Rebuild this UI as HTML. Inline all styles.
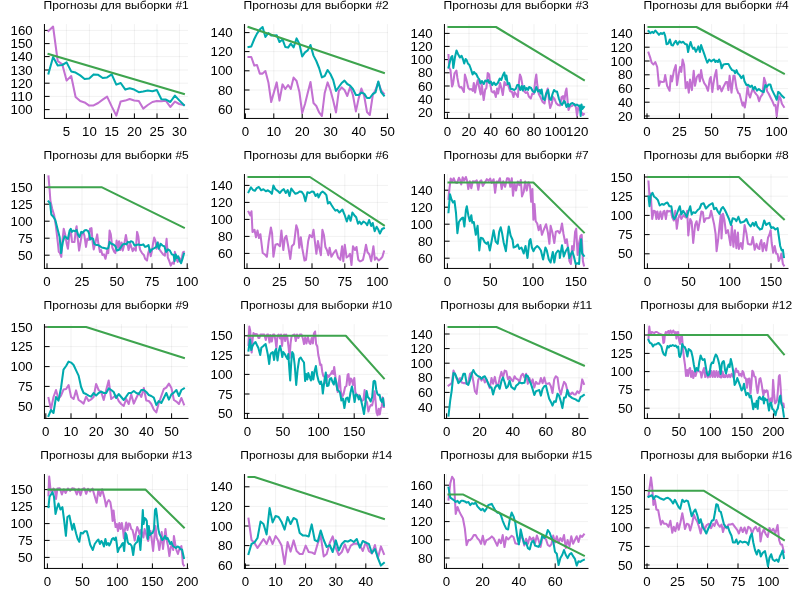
<!DOCTYPE html>
<html lang="ru">
<head>
<meta charset="utf-8">
<title>Прогнозы для выборок</title>
<style>
html,body{margin:0;padding:0;background:#ffffff;}
body{width:800px;height:600px;overflow:hidden;font-family:"Liberation Sans",sans-serif;}
svg{display:block;will-change:transform;}
</style>
</head>
<body>
<svg width="800" height="600" viewBox="0 0 800 600">
<rect x="0" y="0" width="800" height="600" fill="#ffffff"/>
<defs>
<clipPath id="c1"><rect x="44.5" y="24.1" width="143.6" height="94.3"/></clipPath>
<clipPath id="c2"><rect x="244.4" y="24.1" width="143.6" height="94.3"/></clipPath>
<clipPath id="c3"><rect x="444.4" y="24.1" width="143.6" height="94.3"/></clipPath>
<clipPath id="c4"><rect x="644.5" y="24.1" width="143.6" height="94.3"/></clipPath>
<clipPath id="c5"><rect x="44.5" y="174.1" width="143.6" height="94.3"/></clipPath>
<clipPath id="c6"><rect x="244.4" y="174.1" width="143.6" height="94.3"/></clipPath>
<clipPath id="c7"><rect x="444.4" y="174.1" width="143.6" height="94.3"/></clipPath>
<clipPath id="c8"><rect x="644.5" y="174.1" width="143.6" height="94.3"/></clipPath>
<clipPath id="c9"><rect x="44.5" y="324.1" width="143.6" height="94.3"/></clipPath>
<clipPath id="c10"><rect x="244.4" y="324.1" width="143.6" height="94.3"/></clipPath>
<clipPath id="c11"><rect x="444.4" y="324.1" width="143.6" height="94.3"/></clipPath>
<clipPath id="c12"><rect x="644.5" y="324.1" width="143.6" height="94.3"/></clipPath>
<clipPath id="c13"><rect x="44.5" y="474.1" width="143.6" height="94.3"/></clipPath>
<clipPath id="c14"><rect x="244.4" y="474.1" width="143.6" height="94.3"/></clipPath>
<clipPath id="c15"><rect x="444.4" y="474.1" width="143.6" height="94.3"/></clipPath>
<clipPath id="c16"><rect x="644.5" y="474.1" width="143.6" height="94.3"/></clipPath>
</defs>
<g>
<path d="M66.4 24.1V118.5M89.4 24.1V118.5M111.6 24.1V118.5M134.4 24.1V118.5M157.0 24.1V118.5M179.4 24.1V118.5M44.5 109.6H188.0M44.5 96.4H188.0M44.5 83.2H188.0M44.5 70.0H188.0M44.5 56.6H188.0M44.5 43.6H188.0M44.5 30.4H188.0" stroke="#000" stroke-opacity="0.1" stroke-width="0.55" fill="none"/>
<path d="M44.45 24.00V118.95M43.95 118.45H188.50M66.4 118.5V113.4M89.4 118.5V113.4M111.6 118.5V113.4M134.4 118.5V113.4M157.0 118.5V113.4M179.4 118.5V113.4M44.5 109.6H49.6M44.5 96.4H49.6M44.5 83.2H49.6M44.5 70.0H49.6M44.5 56.6H49.6M44.5 43.6H49.6M44.5 30.4H49.6" stroke="#000" stroke-width="1" fill="none"/>
<g clip-path="url(#c1)" fill="none" stroke-width="2.05" stroke-linejoin="round" stroke-linecap="square">
<polyline stroke="#c371d2" points="48.5,31.0 53.1,26.6 57.7,61.0 62.3,64.4 66.6,80.6 71.2,76.0 75.6,97.0 80.2,101.0 84.6,102.4 89.2,105.6 93.6,105.4 98.2,103.0 102.7,99.6 107.1,96.6 111.7,106.4 116.3,115.6 120.7,101.4 125.3,100.6 129.7,99.0 134.2,100.4 138.8,101.0 143.2,108.6 147.8,105.0 152.4,102.0 156.8,101.0 161.4,101.2 166.0,100.8 170.3,107.0 174.9,101.6 179.3,104.0 183.9,105.0"/>
<polyline stroke="#00aaae" points="48.5,73.6 53.1,57.0 57.7,65.4 62.3,65.0 66.6,62.4 71.2,71.4 75.6,72.6 80.2,75.4 84.6,79.0 89.2,78.6 93.6,74.4 98.2,74.8 102.7,78.0 107.1,77.4 111.7,74.4 116.3,84.6 120.7,83.0 125.3,89.6 129.7,88.2 134.2,89.6 138.8,92.2 143.2,91.6 147.8,90.6 152.4,91.2 156.8,90.0 161.4,99.2 166.0,99.6 170.3,102.0 174.9,95.6 179.3,100.4 183.9,105.0"/>
<polyline stroke="#3ea44e" points="48.5,54.0 183.9,94.0"/>
</g>
<g font-family="'Liberation Sans', sans-serif" font-size="12.7" fill="#000">
<text x="62.71" y="135.7" textLength="7.38" lengthAdjust="spacingAndGlyphs">5</text>
<text x="82.02" y="135.7" textLength="14.76" lengthAdjust="spacingAndGlyphs">10</text>
<text x="104.22" y="135.7" textLength="14.76" lengthAdjust="spacingAndGlyphs">15</text>
<text x="127.02" y="135.7" textLength="14.76" lengthAdjust="spacingAndGlyphs">20</text>
<text x="149.62" y="135.7" textLength="14.76" lengthAdjust="spacingAndGlyphs">25</text>
<text x="172.02" y="135.7" textLength="14.76" lengthAdjust="spacingAndGlyphs">30</text>
<text x="10.56" y="114.1" textLength="22.14" lengthAdjust="spacingAndGlyphs">100</text>
<text x="10.56" y="100.9" textLength="22.14" lengthAdjust="spacingAndGlyphs">110</text>
<text x="10.56" y="87.7" textLength="22.14" lengthAdjust="spacingAndGlyphs">120</text>
<text x="10.56" y="74.5" textLength="22.14" lengthAdjust="spacingAndGlyphs">130</text>
<text x="10.56" y="61.1" textLength="22.14" lengthAdjust="spacingAndGlyphs">140</text>
<text x="10.56" y="48.1" textLength="22.14" lengthAdjust="spacingAndGlyphs">150</text>
<text x="10.56" y="34.9" textLength="22.14" lengthAdjust="spacingAndGlyphs">160</text>
</g>
<text x="43.63" y="8.8" font-family="'Liberation Sans', sans-serif" font-size="10.5" fill="#000" textLength="145.19" lengthAdjust="spacingAndGlyphs">Прогнозы для выборки #1</text>
</g>
<g>
<path d="M245.4 24.1V118.5M273.8 24.1V118.5M302.2 24.1V118.5M330.6 24.1V118.5M358.8 24.1V118.5M387.4 24.1V118.5M244.4 32.6H388.0M244.4 51.6H388.0M244.4 70.8H388.0M244.4 90.0H388.0M244.4 109.2H388.0" stroke="#000" stroke-opacity="0.1" stroke-width="0.55" fill="none"/>
<path d="M244.45 24.00V118.95M243.95 118.45H388.50M245.4 118.5V113.4M273.8 118.5V113.4M302.2 118.5V113.4M330.6 118.5V113.4M358.8 118.5V113.4M387.4 118.5V113.4M244.4 32.6H249.5M244.4 51.6H249.5M244.4 70.8H249.5M244.4 90.0H249.5M244.4 109.2H249.5" stroke="#000" stroke-width="1" fill="none"/>
<g clip-path="url(#c2)" fill="none" stroke-width="2.05" stroke-linejoin="round" stroke-linecap="square">
<polyline stroke="#c371d2" points="248.5,57.0 251.3,57.0 254.3,65.6 257.0,65.0 259.8,73.6 262.6,73.6 265.4,71.0 268.4,82.4 271.2,102.0 273.9,92.4 276.7,82.4 279.5,100.6 282.5,84.4 285.3,89.0 288.1,85.0 290.8,89.0 293.6,77.6 296.6,81.0 299.4,92.0 302.2,113.0 305.0,104.0 307.7,93.0 310.5,82.0 313.5,103.0 316.3,106.0 319.1,112.4 321.9,116.0 324.7,93.0 327.6,82.4 330.4,90.0 333.2,100.4 336.0,112.4 338.8,91.0 341.7,87.4 344.5,90.0 347.3,96.0 350.1,87.0 352.9,95.0 355.9,111.4 358.6,98.6 361.4,88.6 364.2,96.0 367.0,112.0 369.8,115.0 372.8,95.0 375.5,90.0 378.3,82.0 381.1,90.4 383.9,93.6"/>
<polyline stroke="#00aaae" points="248.5,47.0 251.3,46.4 254.3,39.0 257.0,33.6 259.8,29.6 262.6,27.0 265.4,37.0 268.4,33.0 271.2,35.6 273.9,35.4 276.7,35.2 279.5,42.0 282.5,39.4 285.3,47.0 288.1,47.6 290.8,43.6 293.6,47.4 296.6,38.4 299.4,44.0 302.2,56.4 305.0,52.4 307.7,50.4 310.5,45.0 313.5,55.6 316.3,61.0 319.1,68.0 321.9,77.4 324.7,76.0 327.6,70.0 330.4,74.0 333.2,80.0 336.0,91.0 338.8,87.0 341.7,83.0 344.5,80.6 347.3,84.0 350.1,85.6 352.9,89.0 355.9,95.0 358.6,95.0 361.4,92.6 364.2,93.6 367.0,98.0 369.8,98.0 372.8,94.0 375.5,92.4 378.3,81.6 381.1,92.0 383.9,95.6"/>
<polyline stroke="#3ea44e" points="248.5,27.0 383.9,73.0"/>
</g>
<g font-family="'Liberation Sans', sans-serif" font-size="12.7" fill="#000">
<text x="241.71" y="135.7" textLength="7.38" lengthAdjust="spacingAndGlyphs">0</text>
<text x="266.42" y="135.7" textLength="14.76" lengthAdjust="spacingAndGlyphs">10</text>
<text x="294.82" y="135.7" textLength="14.76" lengthAdjust="spacingAndGlyphs">20</text>
<text x="323.22" y="135.7" textLength="14.76" lengthAdjust="spacingAndGlyphs">30</text>
<text x="351.42" y="135.7" textLength="14.76" lengthAdjust="spacingAndGlyphs">40</text>
<text x="380.02" y="135.7" textLength="14.76" lengthAdjust="spacingAndGlyphs">50</text>
<text x="210.56" y="37.1" textLength="22.14" lengthAdjust="spacingAndGlyphs">140</text>
<text x="210.56" y="56.1" textLength="22.14" lengthAdjust="spacingAndGlyphs">120</text>
<text x="210.56" y="75.3" textLength="22.14" lengthAdjust="spacingAndGlyphs">100</text>
<text x="217.94" y="94.5" textLength="14.76" lengthAdjust="spacingAndGlyphs">80</text>
<text x="217.94" y="113.7" textLength="14.76" lengthAdjust="spacingAndGlyphs">60</text>
</g>
<text x="243.63" y="8.8" font-family="'Liberation Sans', sans-serif" font-size="10.5" fill="#000" textLength="145.19" lengthAdjust="spacingAndGlyphs">Прогнозы для выборки #2</text>
</g>
<g>
<path d="M447.4 24.1V118.5M469.0 24.1V118.5M490.8 24.1V118.5M512.4 24.1V118.5M534.0 24.1V118.5M555.6 24.1V118.5M577.2 24.1V118.5M444.4 33.4H588.0M444.4 46.4H588.0M444.4 59.6H588.0M444.4 72.8H588.0M444.4 86.0H588.0M444.4 99.2H588.0M444.4 112.4H588.0" stroke="#000" stroke-opacity="0.1" stroke-width="0.55" fill="none"/>
<path d="M444.45 24.00V118.95M443.95 118.45H588.50M447.4 118.5V113.4M469.0 118.5V113.4M490.8 118.5V113.4M512.4 118.5V113.4M534.0 118.5V113.4M555.6 118.5V113.4M577.2 118.5V113.4M444.4 33.4H449.6M444.4 46.4H449.6M444.4 59.6H449.6M444.4 72.8H449.6M444.4 86.0H449.6M444.4 99.2H449.6M444.4 112.4H449.6" stroke="#000" stroke-width="1" fill="none"/>
<g clip-path="url(#c3)" fill="none" stroke-width="2.05" stroke-linejoin="round" stroke-linecap="square">
<polyline stroke="#c371d2" points="448.5,55.0 449.3,68.0 450.5,70.0 452.0,86.5 453.0,84.0 454.5,73.5 456.4,70.5 457.4,78.0 458.9,86.0 459.9,87.5 461.4,87.0 463.9,92.0 464.9,74.5 466.4,79.5 468.3,88.0 469.8,89.5 471.3,89.0 472.8,91.0 473.8,83.0 475.1,92.5 476.3,85.5 477.8,80.0 479.3,88.0 480.7,94.5 481.7,84.0 483.7,100.0 485.2,89.5 486.4,88.0 487.7,73.0 489.2,74.5 490.2,84.0 491.6,91.5 493.1,92.5 494.1,91.0 495.8,97.0 497.1,88.5 498.1,93.5 500.1,83.0 501.6,89.0 502.8,95.0 504.5,82.0 506.0,85.0 508.0,84.5 510.0,91.0 512.0,92.0 513.5,97.0 514.5,92.0 516.0,94.0 517.9,97.0 518.9,83.0 519.9,74.5 521.1,77.5 522.4,85.0 523.9,91.0 525.9,93.0 527.4,92.0 528.8,96.5 530.8,98.5 532.3,93.5 533.8,94.0 535.3,80.0 536.3,74.5 537.3,85.0 538.8,94.0 540.8,98.0 542.7,102.0 544.5,103.5 546.2,93.0 547.7,88.5 549.2,102.0 550.2,108.0 551.7,104.0 553.1,97.0 554.6,99.0 556.1,103.0 558.1,105.0 560.1,105.5 561.6,97.0 563.1,96.0 564.1,103.0 565.5,92.0 566.5,88.5 567.5,100.0 568.5,110.0 570.0,106.5 572.0,106.0 574.5,104.0 576.0,107.5 577.0,115.5 578.4,107.0 579.9,110.0 581.4,112.0 582.9,115.0 583.9,114.0"/>
<polyline stroke="#00aaae" points="448.5,67.5 450.0,61.5 451.3,57.0 452.3,56.0 453.3,68.0 455.0,57.0 456.5,50.5 458.0,54.0 459.9,57.5 461.6,55.8 462.9,59.0 464.2,63.5 465.6,59.0 466.6,60.0 467.9,63.5 469.4,65.0 470.9,69.0 472.6,74.5 473.9,72.0 475.2,73.5 476.2,74.0 477.9,77.5 479.4,79.5 480.4,83.5 481.9,81.0 483.8,84.0 485.3,80.5 486.8,81.5 488.1,80.0 489.3,83.0 490.8,81.5 492.3,85.0 493.8,82.5 495.8,85.0 497.8,83.0 499.8,78.5 501.3,80.0 502.8,75.5 504.3,72.5 505.7,79.5 506.4,75.5 507.7,84.0 509.2,83.0 510.7,89.0 512.2,89.0 514.2,90.0 515.7,89.0 517.2,85.0 518.7,85.0 520.2,90.0 521.7,86.0 522.7,90.5 524.2,86.0 525.7,90.0 526.7,88.0 528.1,90.0 529.1,87.0 531.1,88.0 532.6,91.0 534.6,92.5 536.3,87.0 537.9,91.5 539.6,90.0 540.6,93.5 541.6,89.5 543.1,99.0 544.6,100.0 546.1,94.0 548.1,90.0 549.6,99.0 551.0,100.0 552.5,94.0 554.0,90.0 555.5,91.5 557.0,91.5 559.0,99.0 560.5,103.0 562.0,105.0 564.0,101.0 565.0,102.0 566.5,107.0 568.0,104.0 569.0,106.5 570.5,104.0 572.5,103.0 573.9,104.0 575.4,105.5 576.9,104.5 578.9,106.0 579.9,105.5 580.7,116.0 581.5,104.5 582.4,109.0 583.9,107.0"/>
<polyline stroke="#3ea44e" points="448.5,27.0 496.0,27.0 583.9,80.0"/>
</g>
<g font-family="'Liberation Sans', sans-serif" font-size="12.7" fill="#000">
<text x="443.71" y="135.7" textLength="7.38" lengthAdjust="spacingAndGlyphs">0</text>
<text x="461.62" y="135.7" textLength="14.76" lengthAdjust="spacingAndGlyphs">20</text>
<text x="483.42" y="135.7" textLength="14.76" lengthAdjust="spacingAndGlyphs">40</text>
<text x="505.02" y="135.7" textLength="14.76" lengthAdjust="spacingAndGlyphs">60</text>
<text x="526.62" y="135.7" textLength="14.76" lengthAdjust="spacingAndGlyphs">80</text>
<text x="544.53" y="135.7" textLength="22.14" lengthAdjust="spacingAndGlyphs">100</text>
<text x="566.13" y="135.7" textLength="22.14" lengthAdjust="spacingAndGlyphs">120</text>
<text x="410.56" y="37.9" textLength="22.14" lengthAdjust="spacingAndGlyphs">140</text>
<text x="410.56" y="50.9" textLength="22.14" lengthAdjust="spacingAndGlyphs">120</text>
<text x="410.56" y="64.1" textLength="22.14" lengthAdjust="spacingAndGlyphs">100</text>
<text x="417.94" y="77.3" textLength="14.76" lengthAdjust="spacingAndGlyphs">80</text>
<text x="417.94" y="90.5" textLength="14.76" lengthAdjust="spacingAndGlyphs">60</text>
<text x="417.94" y="103.7" textLength="14.76" lengthAdjust="spacingAndGlyphs">40</text>
<text x="417.94" y="116.9" textLength="14.76" lengthAdjust="spacingAndGlyphs">20</text>
</g>
<text x="443.63" y="8.8" font-family="'Liberation Sans', sans-serif" font-size="10.5" fill="#000" textLength="145.19" lengthAdjust="spacingAndGlyphs">Прогнозы для выборки #3</text>
</g>
<g>
<path d="M647.0 24.1V118.5M679.4 24.1V118.5M711.6 24.1V118.5M744.0 24.1V118.5M776.6 24.1V118.5M644.5 33.4H788.0M644.5 47.2H788.0M644.5 61.0H788.0M644.5 74.8H788.0M644.5 88.6H788.0M644.5 102.2H788.0M644.5 116.0H788.0" stroke="#000" stroke-opacity="0.1" stroke-width="0.55" fill="none"/>
<path d="M644.45 24.00V118.95M643.95 118.45H788.50M647.0 118.5V113.4M679.4 118.5V113.4M711.6 118.5V113.4M744.0 118.5V113.4M776.6 118.5V113.4M644.5 33.4H649.6M644.5 47.2H649.6M644.5 61.0H649.6M644.5 74.8H649.6M644.5 88.6H649.6M644.5 102.2H649.6M644.5 116.0H649.6" stroke="#000" stroke-width="1" fill="none"/>
<g clip-path="url(#c4)" fill="none" stroke-width="2.05" stroke-linejoin="round" stroke-linecap="square">
<polyline stroke="#c371d2" points="648.5,52.6 650.4,58.2 651.6,62.6 653.5,64.5 655.3,62.0 657.2,67.0 659.0,85.8 660.3,81.4 662.1,82.0 664.0,81.8 665.2,75.1 667.1,85.8 669.6,90.8 670.8,75.8 672.0,81.4 673.9,70.8 675.8,65.1 677.0,85.1 678.9,73.2 680.1,67.0 681.3,72.0 682.6,59.5 684.1,65.1 685.7,88.2 687.3,82.0 688.8,92.6 690.0,79.5 691.9,90.1 693.7,70.8 695.0,85.8 696.8,77.0 698.7,74.5 699.9,81.4 701.1,70.1 702.4,78.2 704.2,83.2 706.1,85.8 708.0,90.8 709.8,78.9 710.8,77.0 712.3,92.0 713.5,83.2 714.8,75.8 716.3,70.1 717.9,89.5 719.7,85.8 721.6,91.4 723.4,87.0 725.9,82.0 727.2,82.0 728.4,90.1 729.6,75.8 731.5,92.6 733.4,75.8 734.6,75.8 736.5,88.2 738.3,93.2 739.6,93.9 740.8,98.8 742.6,105.6 743.5,102.5 744.8,107.5 746.0,100.0 747.6,86.2 748.8,94.4 750.1,97.5 751.3,93.1 752.9,88.1 754.4,91.9 756.3,94.4 757.5,95.6 759.1,101.2 760.6,96.9 762.5,94.4 764.1,77.8 765.6,82.5 767.1,91.2 768.7,93.8 770.5,97.5 772.4,101.2 774.2,105.6 775.5,105.0 776.7,116.2 777.7,107.5 779.2,96.2 780.4,98.1 781.9,103.8 783.9,106.9"/>
<polyline stroke="#00aaae" points="648.5,31.0 650.4,33.2 652.2,31.8 653.5,33.0 655.3,30.5 657.2,32.6 659.0,34.8 660.9,33.0 662.1,33.9 664.0,32.6 665.2,35.8 666.5,44.2 668.3,43.5 669.9,39.5 671.4,45.1 672.9,45.5 674.5,42.6 675.8,40.8 677.6,44.5 679.5,41.4 681.3,42.6 683.2,41.8 685.0,43.9 686.9,44.5 688.1,52.0 689.4,45.8 690.6,42.0 691.9,46.4 693.1,48.9 694.3,47.6 695.9,51.8 697.4,48.9 698.4,46.4 699.9,52.0 701.1,45.1 702.4,48.9 704.2,53.9 706.1,59.5 707.3,62.6 709.2,59.5 711.1,61.4 712.9,60.1 714.2,59.5 715.4,62.0 716.6,60.8 717.9,62.0 719.1,59.5 720.7,63.2 721.6,68.2 723.4,64.5 725.9,63.9 728.4,63.9 730.3,67.6 732.1,70.1 734.0,70.8 735.2,73.2 736.5,70.1 737.7,73.2 739.6,75.1 741.4,78.1 743.3,75.6 744.5,81.2 746.4,85.0 748.2,84.8 750.1,86.9 751.9,85.6 753.4,89.4 755.0,86.9 756.9,90.6 758.8,89.0 760.6,90.6 762.5,91.5 763.7,92.2 765.3,85.0 766.8,86.9 768.7,84.4 770.3,84.4 771.8,89.4 773.6,93.1 775.5,96.9 776.7,99.8 778.2,91.9 779.8,93.1 781.7,95.6 783.9,97.5"/>
<polyline stroke="#3ea44e" points="648.5,27.0 696.4,27.0 783.9,73.6"/>
</g>
<g font-family="'Liberation Sans', sans-serif" font-size="12.7" fill="#000">
<text x="643.31" y="135.7" textLength="7.38" lengthAdjust="spacingAndGlyphs">0</text>
<text x="672.02" y="135.7" textLength="14.76" lengthAdjust="spacingAndGlyphs">25</text>
<text x="704.22" y="135.7" textLength="14.76" lengthAdjust="spacingAndGlyphs">50</text>
<text x="736.62" y="135.7" textLength="14.76" lengthAdjust="spacingAndGlyphs">75</text>
<text x="765.53" y="135.7" textLength="22.14" lengthAdjust="spacingAndGlyphs">100</text>
<text x="610.56" y="37.9" textLength="22.14" lengthAdjust="spacingAndGlyphs">140</text>
<text x="610.56" y="51.7" textLength="22.14" lengthAdjust="spacingAndGlyphs">120</text>
<text x="610.56" y="65.5" textLength="22.14" lengthAdjust="spacingAndGlyphs">100</text>
<text x="617.94" y="79.3" textLength="14.76" lengthAdjust="spacingAndGlyphs">80</text>
<text x="617.94" y="93.1" textLength="14.76" lengthAdjust="spacingAndGlyphs">60</text>
<text x="617.94" y="106.7" textLength="14.76" lengthAdjust="spacingAndGlyphs">40</text>
<text x="617.94" y="120.5" textLength="14.76" lengthAdjust="spacingAndGlyphs">20</text>
</g>
<text x="643.63" y="8.8" font-family="'Liberation Sans', sans-serif" font-size="10.5" fill="#000" textLength="145.19" lengthAdjust="spacingAndGlyphs">Прогнозы для выборки #4</text>
</g>
<g>
<path d="M47.0 174.1V268.4M82.0 174.1V268.4M117.0 174.1V268.4M152.0 174.1V268.4M187.2 174.1V268.4M44.5 187.2H188.0M44.5 204.2H188.0M44.5 221.2H188.0M44.5 238.2H188.0M44.5 255.2H188.0" stroke="#000" stroke-opacity="0.1" stroke-width="0.55" fill="none"/>
<path d="M44.45 174.00V268.95M43.95 268.45H188.50M47.0 268.4V263.3M82.0 268.4V263.3M117.0 268.4V263.3M152.0 268.4V263.3M187.2 268.4V263.3M44.5 187.2H49.6M44.5 204.2H49.6M44.5 221.2H49.6M44.5 238.2H49.6M44.5 255.2H49.6" stroke="#000" stroke-width="1" fill="none"/>
<g clip-path="url(#c5)" fill="none" stroke-width="2.05" stroke-linejoin="round" stroke-linecap="square">
<polyline stroke="#c371d2" points="48.5,176.4 49.4,187.0 50.4,200.8 52.2,208.8 54.1,215.0 55.9,226.2 57.8,242.5 58.8,251.9 60.0,253.1 61.3,256.9 62.5,240.0 63.7,228.8 65.2,234.4 66.7,243.8 67.9,248.8 69.6,233.1 70.8,230.0 72.0,241.9 74.5,241.9 75.8,230.0 76.6,226.2 77.6,237.5 79.1,250.6 80.7,241.2 81.9,233.8 83.2,231.9 84.4,235.6 86.0,246.9 87.3,238.8 88.8,240.0 90.0,228.8 91.5,228.1 92.5,241.2 93.7,249.4 95.6,241.9 97.2,234.4 98.4,243.8 99.9,251.9 101.1,250.0 102.4,255.0 103.9,254.4 105.5,258.8 107.3,250.0 108.3,253.1 109.6,230.6 110.8,234.4 112.3,247.5 114.2,251.9 115.4,253.1 116.6,240.6 117.9,247.5 119.1,241.2 120.3,250.0 121.6,242.5 122.8,250.6 124.1,245.0 125.9,235.0 127.2,242.5 128.6,250.0 130.3,243.8 131.5,247.5 132.7,251.2 134.0,248.1 135.8,250.6 137.1,231.9 138.3,236.2 139.6,247.5 140.2,250.0 142.0,253.1 143.9,255.0 145.1,258.8 147.0,260.6 148.2,253.1 149.5,248.8 150.7,256.2 151.9,251.2 153.2,242.5 154.2,237.5 155.4,240.6 156.6,248.8 158.1,242.5 159.4,249.4 161.2,251.9 163.1,254.4 164.9,255.6 166.6,238.8 167.8,257.5 169.3,261.2 170.8,265.6 172.4,262.5 173.9,263.8 174.9,251.9 176.5,259.4 177.7,261.9 179.2,257.5 180.4,260.6 181.7,258.8 182.9,252.5 183.9,251.9"/>
<polyline stroke="#00aaae" points="48.5,201.4 50.1,203.2 51.3,214.5 53.5,217.0 55.3,220.0 57.8,230.0 59.6,236.9 61.1,253.1 62.7,242.5 64.6,236.2 66.5,237.8 67.9,238.8 69.6,230.6 70.8,228.8 72.0,231.9 73.3,230.6 75.1,231.2 76.6,230.0 78.2,235.0 79.5,236.9 81.3,231.9 82.6,232.8 84.4,230.6 86.3,230.0 88.1,231.2 89.4,234.4 90.2,239.4 91.9,238.1 93.1,238.8 94.3,243.8 96.2,245.0 98.1,245.0 99.9,246.2 101.8,247.5 104.2,248.1 106.7,248.8 108.3,248.1 109.6,241.9 111.3,243.8 113.5,244.4 115.4,246.2 117.0,250.6 118.5,250.0 120.7,247.5 122.8,244.4 124.7,243.8 126.5,244.4 127.8,241.9 129.6,242.5 130.9,241.2 132.7,241.9 134.6,245.6 136.5,245.0 138.3,244.4 139.6,245.0 141.4,245.0 143.3,244.4 145.1,246.9 147.0,246.2 148.5,245.0 150.1,251.9 151.9,249.4 154.4,248.1 156.3,246.9 157.5,242.5 158.8,248.8 160.6,243.8 162.5,245.6 164.3,246.2 166.2,251.9 168.0,249.4 169.9,250.6 171.8,254.4 173.6,255.0 174.6,261.2 175.7,254.4 177.0,258.1 178.0,256.2 179.8,261.2 181.1,263.1 182.7,258.1 183.9,253.8"/>
<polyline stroke="#3ea44e" points="48.5,187.2 101.5,187.2 183.9,227.6"/>
</g>
<g font-family="'Liberation Sans', sans-serif" font-size="12.7" fill="#000">
<text x="43.31" y="285.7" textLength="7.38" lengthAdjust="spacingAndGlyphs">0</text>
<text x="74.62" y="285.7" textLength="14.76" lengthAdjust="spacingAndGlyphs">25</text>
<text x="109.62" y="285.7" textLength="14.76" lengthAdjust="spacingAndGlyphs">50</text>
<text x="144.62" y="285.7" textLength="14.76" lengthAdjust="spacingAndGlyphs">75</text>
<text x="176.13" y="285.7" textLength="22.14" lengthAdjust="spacingAndGlyphs">100</text>
<text x="10.56" y="191.7" textLength="22.14" lengthAdjust="spacingAndGlyphs">150</text>
<text x="10.56" y="208.7" textLength="22.14" lengthAdjust="spacingAndGlyphs">125</text>
<text x="10.56" y="225.7" textLength="22.14" lengthAdjust="spacingAndGlyphs">100</text>
<text x="17.94" y="242.7" textLength="14.76" lengthAdjust="spacingAndGlyphs">75</text>
<text x="17.94" y="259.7" textLength="14.76" lengthAdjust="spacingAndGlyphs">50</text>
</g>
<text x="43.63" y="158.8" font-family="'Liberation Sans', sans-serif" font-size="10.5" fill="#000" textLength="145.19" lengthAdjust="spacingAndGlyphs">Прогнозы для выборки #5</text>
</g>
<g>
<path d="M247.0 174.1V268.4M279.4 174.1V268.4M312.0 174.1V268.4M344.8 174.1V268.4M377.4 174.1V268.4M244.4 185.4H388.0M244.4 202.4H388.0M244.4 219.4H388.0M244.4 236.4H388.0M244.4 253.4H388.0" stroke="#000" stroke-opacity="0.1" stroke-width="0.55" fill="none"/>
<path d="M244.45 174.00V268.95M243.95 268.45H388.50M247.0 268.4V263.3M279.4 268.4V263.3M312.0 268.4V263.3M344.8 268.4V263.3M377.4 268.4V263.3M244.4 185.4H249.5M244.4 202.4H249.5M244.4 219.4H249.5M244.4 236.4H249.5M244.4 253.4H249.5" stroke="#000" stroke-width="1" fill="none"/>
<g clip-path="url(#c6)" fill="none" stroke-width="2.05" stroke-linejoin="round" stroke-linecap="square">
<polyline stroke="#c371d2" points="248.5,211.8 250.4,215.5 251.5,211.3 252.5,232.0 254.5,229.8 256.0,237.2 257.5,230.5 259.0,238.0 260.4,234.2 262.7,253.0 264.9,254.5 266.9,256.8 268.7,241.0 270.9,227.5 272.1,233.5 273.4,256.8 275.4,244.8 277.6,244.0 279.9,246.2 281.4,230.5 283.3,250.0 284.8,238.0 286.3,235.8 288.1,245.5 290.3,259.0 291.8,246.2 294.0,244.0 296.3,225.2 297.8,229.8 299.3,247.8 300.8,237.2 302.3,248.5 304.5,260.5 306.0,259.8 308.2,241.0 309.7,235.0 312.0,237.2 313.5,229.8 315.0,242.5 316.4,253.8 317.9,241.0 319.4,248.5 320.9,255.2 322.4,229.8 323.9,235.0 325.4,247.0 326.9,250.0 328.4,255.2 329.6,247.8 331.4,256.8 333.6,253.0 335.9,250.0 338.1,257.5 340.3,259.8 342.1,246.2 343.3,261.2 344.8,244.8 346.6,257.5 348.6,256.0 350.0,253.8 351.5,265.0 353.0,246.2 355.0,250.0 356.5,247.0 358.3,259.8 359.8,261.2 360.8,261.2 363.0,259.8 364.5,253.0 366.0,244.8 367.5,252.2 369.4,254.5 371.2,261.2 372.4,253.0 373.4,246.2 374.9,259.8 376.4,257.5 378.7,260.5 380.5,259.0 382.4,256.8 383.9,251.5"/>
<polyline stroke="#00aaae" points="248.5,192.2 251.0,187.3 253.0,190.0 254.9,190.8 256.7,188.2 258.9,187.0 261.2,190.3 263.4,189.2 265.9,191.2 267.9,190.3 270.1,191.8 271.9,193.8 273.4,185.5 275.3,189.2 277.6,190.8 279.8,193.0 282.0,190.3 283.8,189.2 285.8,193.0 287.7,190.0 289.5,196.0 291.3,188.5 293.2,191.2 295.4,193.8 297.7,193.0 299.6,191.5 301.7,191.8 303.6,194.5 305.4,201.2 307.4,192.2 309.6,193.0 311.8,191.5 313.6,191.8 315.6,196.0 317.5,193.8 318.5,197.5 320.8,193.0 322.6,191.5 324.5,193.0 326.4,195.2 327.9,203.5 329.7,202.0 331.5,205.0 333.4,208.0 335.4,210.7 337.2,209.8 339.4,212.5 342.4,209.5 344.6,214.8 346.8,221.5 348.8,215.5 350.6,220.8 352.4,212.5 354.3,215.2 356.2,217.3 358.0,223.8 359.5,221.5 361.3,224.2 363.5,221.5 365.7,223.0 367.2,225.2 369.1,220.0 371.2,226.0 372.7,223.0 374.7,231.2 376.6,226.8 378.4,229.8 379.9,233.5 382.1,229.0 383.9,228.2"/>
<polyline stroke="#3ea44e" points="248.5,177.0 309.9,177.0 383.9,225.4"/>
</g>
<g font-family="'Liberation Sans', sans-serif" font-size="12.7" fill="#000">
<text x="243.31" y="285.7" textLength="7.38" lengthAdjust="spacingAndGlyphs">0</text>
<text x="272.02" y="285.7" textLength="14.76" lengthAdjust="spacingAndGlyphs">25</text>
<text x="304.62" y="285.7" textLength="14.76" lengthAdjust="spacingAndGlyphs">50</text>
<text x="337.42" y="285.7" textLength="14.76" lengthAdjust="spacingAndGlyphs">75</text>
<text x="366.33" y="285.7" textLength="22.14" lengthAdjust="spacingAndGlyphs">100</text>
<text x="210.56" y="189.9" textLength="22.14" lengthAdjust="spacingAndGlyphs">140</text>
<text x="210.56" y="206.9" textLength="22.14" lengthAdjust="spacingAndGlyphs">120</text>
<text x="210.56" y="223.9" textLength="22.14" lengthAdjust="spacingAndGlyphs">100</text>
<text x="217.94" y="240.9" textLength="14.76" lengthAdjust="spacingAndGlyphs">80</text>
<text x="217.94" y="257.9" textLength="14.76" lengthAdjust="spacingAndGlyphs">60</text>
</g>
<text x="243.63" y="158.8" font-family="'Liberation Sans', sans-serif" font-size="10.5" fill="#000" textLength="145.19" lengthAdjust="spacingAndGlyphs">Прогнозы для выборки #6</text>
</g>
<g>
<path d="M447.4 174.1V268.4M490.2 174.1V268.4M533.0 174.1V268.4M575.8 174.1V268.4M444.4 190.2H588.0M444.4 207.2H588.0M444.4 224.2H588.0M444.4 241.2H588.0M444.4 258.2H588.0" stroke="#000" stroke-opacity="0.1" stroke-width="0.55" fill="none"/>
<path d="M444.45 174.00V268.95M443.95 268.45H588.50M447.4 268.4V263.3M490.2 268.4V263.3M533.0 268.4V263.3M575.8 268.4V263.3M444.4 190.2H449.6M444.4 207.2H449.6M444.4 224.2H449.6M444.4 241.2H449.6M444.4 258.2H449.6" stroke="#000" stroke-width="1" fill="none"/>
<g clip-path="url(#c7)" fill="none" stroke-width="2.05" stroke-linejoin="round" stroke-linecap="square">
<polyline stroke="#c371d2" points="448.5,198.8 449.5,188.2 450.7,178.5 452.2,181.5 453.7,178.2 455.2,182.2 457.0,183.0 458.9,177.8 460.4,180.8 461.2,184.5 462.7,177.3 464.1,180.8 465.9,177.0 467.1,180.8 468.3,189.0 469.8,181.2 471.3,188.2 472.8,181.2 475.3,181.5 476.8,180.3 478.3,189.8 479.8,181.5 481.3,180.3 482.8,186.0 485.0,182.2 486.8,179.2 488.7,180.8 490.2,178.5 491.7,183.0 493.6,179.2 495.1,192.8 496.6,181.5 498.4,182.2 499.9,178.2 501.7,189.0 503.2,181.2 505.1,186.8 507.1,178.2 508.8,178.5 510.3,186.8 511.8,178.2 513.0,195.8 514.5,183.0 516.0,190.5 517.8,181.5 519.3,185.2 520.8,180.0 522.0,196.5 523.7,192.0 525.2,181.5 526.7,190.5 528.5,182.2 530.0,186.0 531.2,201.8 532.4,189.0 533.4,219.8 534.5,204.0 535.7,221.2 537.2,223.5 538.7,230.2 540.4,225.0 541.9,234.8 543.9,229.5 546.1,224.2 547.9,232.5 549.4,243.8 550.6,225.8 552.4,232.5 554.3,243.0 555.8,231.8 558.0,231.0 559.5,233.2 560.5,231.0 562.0,223.5 563.5,234.0 565.3,243.0 566.8,239.2 568.0,248.2 569.4,261.0 570.9,264.0 572.1,246.0 573.6,250.5 575.1,231.8 576.2,228.8 577.6,255.0 579.1,243.0 580.6,235.5 581.7,234.8 582.9,261.0 583.9,265.5"/>
<polyline stroke="#00aaae" points="448.5,212.2 450.0,194.2 451.5,199.5 453.0,202.5 454.5,201.0 456.0,213.0 457.4,233.2 458.9,222.0 460.4,219.8 461.9,218.2 463.0,217.5 464.4,226.5 465.9,210.0 466.8,206.2 468.3,215.2 469.8,221.2 471.3,215.2 472.3,222.8 473.8,222.0 475.8,234.8 477.6,225.8 479.3,250.5 480.8,237.8 482.8,238.5 484.7,242.2 486.5,243.8 488.0,242.2 489.8,250.5 491.7,240.8 493.6,230.2 495.7,241.5 497.7,243.8 499.2,231.8 500.7,227.2 502.1,233.2 503.6,242.2 505.9,251.2 507.4,237.0 508.8,226.5 510.6,235.5 512.6,240.0 513.6,247.5 515.6,246.8 517.8,244.5 519.3,249.0 521.5,247.5 523.7,253.5 525.5,246.0 527.5,258.0 529.4,240.8 530.5,239.2 531.9,247.5 533.4,251.2 534.9,248.2 537.2,246.0 538.9,247.5 540.9,250.5 543.1,259.5 545.4,247.5 546.8,250.5 548.8,259.5 550.6,262.5 552.8,252.0 554.3,262.5 555.8,253.5 558.0,250.5 559.5,252.0 559.8,258.0 562.0,245.2 563.8,256.5 565.7,251.2 568.0,247.5 569.4,258.0 571.2,253.5 572.4,251.2 573.9,256.5 575.7,264.0 577.6,263.2 579.1,264.0 580.2,246.0 581.1,239.2 582.1,253.5 583.9,255.8"/>
<polyline stroke="#3ea44e" points="448.5,182.4 533.4,182.4 583.9,232.4"/>
</g>
<g font-family="'Liberation Sans', sans-serif" font-size="12.7" fill="#000">
<text x="443.71" y="285.7" textLength="7.38" lengthAdjust="spacingAndGlyphs">0</text>
<text x="482.82" y="285.7" textLength="14.76" lengthAdjust="spacingAndGlyphs">50</text>
<text x="521.93" y="285.7" textLength="22.14" lengthAdjust="spacingAndGlyphs">100</text>
<text x="564.73" y="285.7" textLength="22.14" lengthAdjust="spacingAndGlyphs">150</text>
<text x="410.56" y="194.7" textLength="22.14" lengthAdjust="spacingAndGlyphs">140</text>
<text x="410.56" y="211.7" textLength="22.14" lengthAdjust="spacingAndGlyphs">120</text>
<text x="410.56" y="228.7" textLength="22.14" lengthAdjust="spacingAndGlyphs">100</text>
<text x="417.94" y="245.7" textLength="14.76" lengthAdjust="spacingAndGlyphs">80</text>
<text x="417.94" y="262.7" textLength="14.76" lengthAdjust="spacingAndGlyphs">60</text>
</g>
<text x="443.63" y="158.8" font-family="'Liberation Sans', sans-serif" font-size="10.5" fill="#000" textLength="145.19" lengthAdjust="spacingAndGlyphs">Прогнозы для выборки #7</text>
</g>
<g>
<path d="M647.4 174.1V268.4M688.6 174.1V268.4M729.8 174.1V268.4M771.0 174.1V268.4M644.5 177.0H788.0M644.5 196.2H788.0M644.5 215.4H788.0M644.5 234.6H788.0M644.5 253.8H788.0" stroke="#000" stroke-opacity="0.1" stroke-width="0.55" fill="none"/>
<path d="M644.45 174.00V268.95M643.95 268.45H788.50M647.4 268.4V263.3M688.6 268.4V263.3M729.8 268.4V263.3M771.0 268.4V263.3M644.5 177.0H649.6M644.5 196.2H649.6M644.5 215.4H649.6M644.5 234.6H649.6M644.5 253.8H649.6" stroke="#000" stroke-width="1" fill="none"/>
<g clip-path="url(#c8)" fill="none" stroke-width="2.05" stroke-linejoin="round" stroke-linecap="square">
<polyline stroke="#c371d2" points="648.5,181.5 649.5,196.5 650.7,193.5 652.2,219.0 653.7,210.8 655.2,211.5 656.4,219.0 657.4,211.5 658.9,219.0 660.4,211.5 661.9,219.0 663.4,211.5 664.4,210.8 665.9,219.0 667.1,210.8 668.6,211.5 670.9,210.8 672.3,217.5 673.8,220.5 675.3,210.8 676.8,228.8 678.3,218.2 679.8,214.5 681.3,219.0 683.5,215.2 685.8,217.5 687.2,210.8 688.3,235.5 690.2,219.0 691.7,222.0 693.2,243.0 695.1,225.0 696.6,221.2 698.1,230.2 699.9,220.5 701.4,211.5 702.9,212.2 704.1,222.0 705.9,218.2 708.1,218.2 709.6,217.5 711.1,210.8 712.6,217.5 714.1,224.2 715.6,234.0 716.6,251.2 718.1,240.0 719.6,225.0 720.8,214.5 721.5,238.5 723.0,213.8 724.5,220.5 726.0,233.2 727.9,230.2 729.4,238.5 730.5,245.2 731.9,225.8 733.4,246.8 734.9,230.2 736.4,248.2 737.9,232.5 738.9,249.0 740.9,243.0 742.4,249.0 744.6,225.0 746.4,233.2 747.9,243.8 749.8,244.5 751.3,244.5 752.8,237.0 754.7,249.8 756.5,243.8 758.0,248.2 759.5,249.0 759.8,244.5 761.3,240.0 762.7,251.2 764.2,243.0 766.2,250.5 768.0,237.8 769.4,234.8 770.6,230.2 771.7,243.0 773.2,252.8 774.7,246.0 776.2,253.5 777.6,254.2 778.7,261.0 780.2,258.0 781.4,253.5 782.9,264.0 783.9,265.5"/>
<polyline stroke="#00aaae" points="648.5,196.5 649.5,206.2 650.7,195.8 652.5,192.8 654.0,196.5 656.0,198.0 657.9,200.2 659.7,205.5 661.9,204.0 663.8,204.8 665.6,203.2 667.4,202.5 669.4,206.2 671.3,206.2 673.1,216.8 674.3,219.0 676.1,216.0 678.3,210.0 679.8,206.2 681.3,214.5 683.2,210.8 685.0,213.8 686.8,216.8 688.7,210.8 690.2,206.2 691.7,214.5 693.2,212.2 695.4,213.0 697.7,210.0 699.6,208.5 701.4,204.0 703.6,203.2 705.9,208.5 708.1,206.2 709.6,204.8 712.6,203.2 714.1,209.2 716.0,207.8 717.8,211.5 719.3,213.8 721.5,208.5 723.0,207.0 724.9,210.0 726.7,213.8 729.0,219.0 730.9,225.0 732.7,218.2 734.9,219.0 736.4,221.2 738.4,216.8 740.4,222.8 742.8,222.0 744.6,221.2 746.4,219.0 748.3,223.5 750.6,226.5 752.8,222.8 754.3,225.8 755.8,222.0 757.3,226.5 759.5,228.8 759.8,229.5 762.0,228.8 764.2,220.5 766.2,225.0 768.0,223.5 769.4,222.8 771.2,228.0 773.2,227.2 775.4,229.5 777.6,228.0 778.7,235.5 780.2,246.0 781.7,250.5 782.9,249.8 783.9,257.2"/>
<polyline stroke="#3ea44e" points="648.5,177.0 738.8,177.0 783.9,219.4"/>
</g>
<g font-family="'Liberation Sans', sans-serif" font-size="12.7" fill="#000">
<text x="643.71" y="285.7" textLength="7.38" lengthAdjust="spacingAndGlyphs">0</text>
<text x="681.22" y="285.7" textLength="14.76" lengthAdjust="spacingAndGlyphs">50</text>
<text x="718.73" y="285.7" textLength="22.14" lengthAdjust="spacingAndGlyphs">100</text>
<text x="759.93" y="285.7" textLength="22.14" lengthAdjust="spacingAndGlyphs">150</text>
<text x="610.56" y="181.5" textLength="22.14" lengthAdjust="spacingAndGlyphs">150</text>
<text x="610.56" y="200.7" textLength="22.14" lengthAdjust="spacingAndGlyphs">125</text>
<text x="610.56" y="219.9" textLength="22.14" lengthAdjust="spacingAndGlyphs">100</text>
<text x="617.94" y="239.1" textLength="14.76" lengthAdjust="spacingAndGlyphs">75</text>
<text x="617.94" y="258.3" textLength="14.76" lengthAdjust="spacingAndGlyphs">50</text>
</g>
<text x="643.63" y="158.8" font-family="'Liberation Sans', sans-serif" font-size="10.5" fill="#000" textLength="145.19" lengthAdjust="spacingAndGlyphs">Прогнозы для выборки #8</text>
</g>
<g>
<path d="M45.8 324.1V418.4M71.0 324.1V418.4M96.2 324.1V418.4M121.4 324.1V418.4M146.4 324.1V418.4M171.6 324.1V418.4M44.5 327.0H188.0M44.5 346.6H188.0M44.5 366.6H188.0M44.5 386.4H188.0M44.5 406.4H188.0" stroke="#000" stroke-opacity="0.1" stroke-width="0.55" fill="none"/>
<path d="M44.45 324.00V418.95M43.95 418.45H188.50M45.8 418.4V413.3M71.0 418.4V413.3M96.2 418.4V413.3M121.4 418.4V413.3M146.4 418.4V413.3M171.6 418.4V413.3M44.5 327.0H49.6M44.5 346.6H49.6M44.5 366.6H49.6M44.5 386.4H49.6M44.5 406.4H49.6" stroke="#000" stroke-width="1" fill="none"/>
<g clip-path="url(#c9)" fill="none" stroke-width="2.05" stroke-linejoin="round" stroke-linecap="square">
<polyline stroke="#c371d2" points="48.5,398.0 51.0,409.0 53.5,397.0 56.0,390.0 58.5,399.0 61.0,395.6 63.5,389.6 66.1,389.0 68.6,385.0 71.1,397.0 73.6,399.0 76.1,390.4 78.6,400.0 81.1,401.6 83.6,403.6 86.1,396.6 88.6,401.0 91.1,399.4 93.6,397.0 96.1,384.0 98.6,390.0 101.2,392.0 103.7,400.0 106.2,390.0 108.7,380.6 111.2,399.0 113.7,397.0 116.2,395.6 118.7,401.0 121.2,404.0 123.7,406.0 126.2,399.0 128.7,404.0 131.2,394.4 133.8,403.6 136.3,398.0 138.8,393.0 141.3,397.0 143.8,388.0 146.3,400.6 148.8,401.0 151.3,404.0 153.8,409.6 156.3,412.4 158.8,403.0 161.3,396.0 163.8,389.0 166.3,387.6 168.9,383.6 171.4,388.0 173.9,400.0 176.4,401.6 178.9,404.0 181.4,398.0 183.9,404.4"/>
<polyline stroke="#00aaae" points="48.5,416.0 51.0,410.0 53.5,413.0 56.0,397.0 58.5,400.6 61.0,388.0 63.5,369.6 66.1,366.0 68.6,361.6 71.1,362.6 73.6,365.0 76.1,370.4 78.6,375.6 81.1,387.0 83.6,393.0 86.1,394.0 88.6,395.6 91.1,396.6 93.6,393.0 96.1,395.6 98.6,393.0 101.2,391.6 103.7,393.0 106.2,393.0 108.7,388.4 111.2,390.0 113.7,392.0 116.2,398.0 118.7,394.0 121.2,397.0 123.7,400.0 126.2,396.6 128.7,393.0 131.2,393.0 133.8,391.0 136.3,393.0 138.8,394.0 141.3,390.0 143.8,390.0 146.3,392.0 148.8,395.0 151.3,396.0 153.8,397.6 156.3,405.0 158.8,401.0 161.3,403.0 163.8,398.0 166.3,393.0 168.9,399.6 171.4,394.4 173.9,392.6 176.4,390.0 178.9,396.0 181.4,390.0 183.9,388.4"/>
<polyline stroke="#3ea44e" points="48.5,327.0 86.1,327.0 183.9,358.0"/>
</g>
<g font-family="'Liberation Sans', sans-serif" font-size="12.7" fill="#000">
<text x="42.11" y="435.7" textLength="7.38" lengthAdjust="spacingAndGlyphs">0</text>
<text x="63.62" y="435.7" textLength="14.76" lengthAdjust="spacingAndGlyphs">10</text>
<text x="88.82" y="435.7" textLength="14.76" lengthAdjust="spacingAndGlyphs">20</text>
<text x="114.02" y="435.7" textLength="14.76" lengthAdjust="spacingAndGlyphs">30</text>
<text x="139.02" y="435.7" textLength="14.76" lengthAdjust="spacingAndGlyphs">40</text>
<text x="164.22" y="435.7" textLength="14.76" lengthAdjust="spacingAndGlyphs">50</text>
<text x="10.56" y="331.5" textLength="22.14" lengthAdjust="spacingAndGlyphs">150</text>
<text x="10.56" y="351.1" textLength="22.14" lengthAdjust="spacingAndGlyphs">125</text>
<text x="10.56" y="371.1" textLength="22.14" lengthAdjust="spacingAndGlyphs">100</text>
<text x="17.94" y="390.9" textLength="14.76" lengthAdjust="spacingAndGlyphs">75</text>
<text x="17.94" y="410.9" textLength="14.76" lengthAdjust="spacingAndGlyphs">50</text>
</g>
<text x="43.63" y="308.8" font-family="'Liberation Sans', sans-serif" font-size="10.5" fill="#000" textLength="145.19" lengthAdjust="spacingAndGlyphs">Прогнозы для выборки #9</text>
</g>
<g>
<path d="M247.4 324.1V418.4M283.0 324.1V418.4M318.6 324.1V418.4M354.2 324.1V418.4M244.4 335.8H388.0M244.4 355.2H388.0M244.4 374.4H388.0M244.4 394.0H388.0M244.4 413.4H388.0" stroke="#000" stroke-opacity="0.1" stroke-width="0.55" fill="none"/>
<path d="M244.45 324.00V418.95M243.95 418.45H388.50M247.4 418.4V413.3M283.0 418.4V413.3M318.6 418.4V413.3M354.2 418.4V413.3M244.4 335.8H249.5M244.4 355.2H249.5M244.4 374.4H249.5M244.4 394.0H249.5M244.4 413.4H249.5" stroke="#000" stroke-width="1" fill="none"/>
<g clip-path="url(#c10)" fill="none" stroke-width="2.05" stroke-linejoin="round" stroke-linecap="square">
<polyline stroke="#c371d2" points="248.5,345.0 249.3,326.5 250.3,331.0 251.0,348.5 251.7,352.5 252.5,340.0 253.5,333.0 254.4,334.5 255.9,334.0 257.4,334.5 258.4,338.0 259.4,338.0 260.4,334.5 262.4,334.5 264.3,334.5 265.8,340.0 267.1,334.5 268.3,334.5 269.5,342.5 270.5,335.0 271.8,341.5 273.1,334.5 274.3,334.5 275.4,340.0 276.4,348.5 277.4,336.0 278.7,334.5 280.0,338.5 281.0,334.5 282.0,346.0 283.2,336.0 284.2,334.5 285.2,341.0 286.1,334.5 287.3,337.0 288.6,347.5 289.6,358.0 290.6,343.0 291.6,336.0 293.1,335.0 294.6,334.5 295.8,341.0 297.0,334.5 298.5,338.0 299.8,334.5 301.5,334.5 303.0,339.0 304.0,344.0 305.2,337.5 306.4,343.5 307.9,337.0 309.4,343.0 310.4,344.0 311.7,338.0 312.9,343.5 313.9,333.5 315.1,331.5 316.1,344.0 317.3,346.5 318.3,355.0 319.3,359.5 320.3,365.0 321.3,364.5 322.3,372.0 323.3,376.0 324.6,377.0 326.0,383.0 327.3,375.0 328.7,377.0 329.7,375.0 330.9,374.0 332.2,371.0 333.2,374.0 334.2,367.0 335.2,375.0 336.5,385.0 337.7,392.0 338.8,382.5 339.6,376.0 340.6,390.0 342.1,397.0 343.6,394.0 345.1,387.0 346.4,386.0 347.6,375.0 348.5,374.0 349.5,385.0 350.7,378.5 351.7,379.5 353.0,385.0 354.3,378.0 355.3,392.0 356.5,394.5 358.0,396.0 359.2,395.0 360.4,398.5 361.9,401.0 363.4,400.0 364.6,390.0 365.6,400.0 366.9,402.0 368.4,411.5 369.5,407.5 370.8,405.0 372.1,405.5 373.3,400.0 374.6,391.2 375.5,400.0 376.5,412.2 377.6,415.3 378.7,408.8 379.8,414.4 380.9,407.9 381.7,407.0 382.6,397.4 383.3,398.7 383.9,407.0"/>
<polyline stroke="#00aaae" points="248.5,350.5 250.0,339.5 251.3,350.0 252.5,346.0 254.0,343.5 255.5,342.0 256.9,345.0 258.4,348.0 260.2,355.0 261.4,347.5 262.9,346.5 264.4,345.0 265.6,344.0 266.9,350.0 267.9,355.0 269.2,364.0 270.2,355.0 271.2,353.0 272.8,352.0 274.1,360.0 275.1,351.0 276.1,349.0 277.5,360.5 278.8,351.0 280.1,346.0 281.5,352.0 282.3,357.0 283.3,352.0 284.8,354.0 286.3,357.0 287.5,359.0 288.3,354.0 289.4,370.0 290.2,380.5 291.2,363.0 292.2,352.0 293.4,354.0 294.7,365.0 296.2,385.0 297.7,369.0 299.2,359.0 300.7,357.5 302.2,360.0 304.0,362.5 305.1,381.0 306.1,374.0 307.3,379.5 308.3,373.0 309.6,377.0 310.9,380.5 312.1,372.0 313.3,379.5 314.6,371.0 315.9,366.0 317.1,375.0 318.6,381.0 320.1,384.0 321.0,381.5 322.0,385.0 322.8,393.5 324.5,380.0 325.8,372.5 327.0,386.0 328.5,385.5 329.8,379.0 331.2,378.0 332.5,382.0 333.8,384.5 335.0,378.0 336.1,382.0 337.4,390.0 338.9,391.0 340.1,393.0 341.4,400.5 342.9,398.5 344.4,408.0 345.9,398.5 347.4,397.5 348.9,402.0 350.4,393.0 351.9,386.5 353.3,393.0 354.6,402.0 355.8,394.5 357.3,395.0 358.8,399.5 359.8,396.0 361.0,400.0 362.6,407.0 364.0,414.0 365.3,404.0 366.6,391.0 367.8,397.0 369.2,398.5 370.7,401.5 372.2,397.0 373.5,381.5 374.3,380.8 375.2,381.6 376.2,389.5 377.4,393.9 378.5,395.2 379.6,394.8 380.6,400.0 381.7,401.8 382.9,398.2 383.9,405.7"/>
<polyline stroke="#3ea44e" points="248.5,335.8 345.8,335.8 383.9,378.4"/>
</g>
<g font-family="'Liberation Sans', sans-serif" font-size="12.7" fill="#000">
<text x="243.71" y="435.7" textLength="7.38" lengthAdjust="spacingAndGlyphs">0</text>
<text x="275.62" y="435.7" textLength="14.76" lengthAdjust="spacingAndGlyphs">50</text>
<text x="307.53" y="435.7" textLength="22.14" lengthAdjust="spacingAndGlyphs">100</text>
<text x="343.13" y="435.7" textLength="22.14" lengthAdjust="spacingAndGlyphs">150</text>
<text x="210.56" y="340.3" textLength="22.14" lengthAdjust="spacingAndGlyphs">150</text>
<text x="210.56" y="359.7" textLength="22.14" lengthAdjust="spacingAndGlyphs">125</text>
<text x="210.56" y="378.9" textLength="22.14" lengthAdjust="spacingAndGlyphs">100</text>
<text x="217.94" y="398.5" textLength="14.76" lengthAdjust="spacingAndGlyphs">75</text>
<text x="217.94" y="417.9" textLength="14.76" lengthAdjust="spacingAndGlyphs">50</text>
</g>
<text x="240.28" y="308.8" font-family="'Liberation Sans', sans-serif" font-size="10.5" fill="#000" textLength="151.89" lengthAdjust="spacingAndGlyphs">Прогнозы для выборки #10</text>
</g>
<g>
<path d="M446.6 324.1V418.4M479.6 324.1V418.4M512.8 324.1V418.4M545.8 324.1V418.4M579.0 324.1V418.4M444.4 334.0H588.0M444.4 348.6H588.0M444.4 363.2H588.0M444.4 377.8H588.0M444.4 392.4H588.0M444.4 407.0H588.0" stroke="#000" stroke-opacity="0.1" stroke-width="0.55" fill="none"/>
<path d="M444.45 324.00V418.95M443.95 418.45H588.50M446.6 418.4V413.3M479.6 418.4V413.3M512.8 418.4V413.3M545.8 418.4V413.3M579.0 418.4V413.3M444.4 334.0H449.6M444.4 348.6H449.6M444.4 363.2H449.6M444.4 377.8H449.6M444.4 392.4H449.6M444.4 407.0H449.6" stroke="#000" stroke-width="1" fill="none"/>
<g clip-path="url(#c11)" fill="none" stroke-width="2.05" stroke-linejoin="round" stroke-linecap="square">
<polyline stroke="#c371d2" points="448.5,385.6 450.2,384.4 451.8,383.1 453.5,370.6 455.1,374.4 456.8,378.8 458.4,380.0 460.1,378.1 461.7,382.5 463.4,383.1 465.0,383.1 466.7,383.8 468.3,382.5 470.0,373.8 471.6,372.5 473.3,381.2 474.9,391.2 476.6,393.8 478.2,380.0 479.9,376.9 481.5,380.6 483.2,377.5 484.8,382.5 486.5,379.4 488.1,383.8 489.8,388.1 491.5,378.1 493.1,383.8 494.8,376.9 496.4,384.4 498.1,385.6 499.7,378.1 501.4,371.9 503.0,377.5 504.7,370.6 506.3,371.2 508.0,379.4 509.6,376.9 511.3,379.4 512.9,381.2 514.6,376.2 516.2,378.8 517.9,379.4 519.5,381.9 521.2,375.6 522.8,373.8 524.5,377.5 526.1,373.8 527.8,383.8 529.4,378.1 531.1,383.8 532.7,379.4 534.3,387.5 536.0,381.9 537.6,383.8 539.3,383.8 540.9,378.1 542.6,383.1 544.3,377.5 545.9,383.8 547.6,383.8 549.2,383.1 550.9,386.2 552.5,393.1 554.2,379.4 555.8,376.2 557.5,377.5 559.1,388.8 560.8,394.4 562.4,387.5 564.1,381.9 565.7,383.8 567.4,390.6 569.0,393.1 570.7,394.4 572.3,392.5 574.0,394.4 575.6,394.4 577.3,391.2 578.9,393.1 580.6,390.0 582.2,379.4 583.9,383.8"/>
<polyline stroke="#00aaae" points="448.5,415.6 450.2,400.6 451.8,390.0 453.5,373.1 455.1,373.8 456.8,378.1 458.4,383.1 460.1,381.2 461.7,379.4 463.4,373.8 465.0,373.8 466.7,383.8 468.3,385.0 470.0,380.0 471.6,374.4 473.3,370.0 474.9,373.1 476.6,375.0 478.2,376.2 479.9,376.9 481.5,378.8 483.2,376.9 484.8,376.2 486.5,379.4 488.1,383.1 489.8,386.9 491.5,387.5 493.1,394.4 494.8,388.1 496.4,385.6 498.1,385.0 499.7,388.8 501.4,381.2 503.0,377.5 504.7,382.5 506.3,388.1 508.0,386.2 509.6,380.6 511.3,386.9 512.9,388.1 514.6,389.4 516.2,385.6 517.9,384.4 519.5,382.5 521.2,383.1 522.8,383.1 524.5,382.8 526.1,375.0 527.8,376.2 529.4,380.6 531.1,384.4 532.7,389.4 534.3,395.0 536.0,391.2 537.6,390.6 539.3,390.0 540.9,395.6 542.6,388.8 544.3,386.2 545.9,385.6 547.6,392.5 549.2,398.8 550.9,401.9 552.5,405.6 554.2,401.2 555.8,401.9 557.5,393.8 559.1,395.6 560.8,401.2 562.4,408.1 564.1,397.5 565.7,397.5 567.4,390.0 569.0,395.6 570.7,396.9 572.3,398.1 574.0,398.8 575.6,399.4 577.3,400.6 578.9,401.2 580.6,396.9 582.2,396.2 583.9,395.0"/>
<polyline stroke="#3ea44e" points="448.5,327.0 496.4,327.0 583.9,365.6"/>
</g>
<g font-family="'Liberation Sans', sans-serif" font-size="12.7" fill="#000">
<text x="442.91" y="435.7" textLength="7.38" lengthAdjust="spacingAndGlyphs">0</text>
<text x="472.22" y="435.7" textLength="14.76" lengthAdjust="spacingAndGlyphs">20</text>
<text x="505.42" y="435.7" textLength="14.76" lengthAdjust="spacingAndGlyphs">40</text>
<text x="538.42" y="435.7" textLength="14.76" lengthAdjust="spacingAndGlyphs">60</text>
<text x="571.62" y="435.7" textLength="14.76" lengthAdjust="spacingAndGlyphs">80</text>
<text x="410.56" y="338.5" textLength="22.14" lengthAdjust="spacingAndGlyphs">140</text>
<text x="410.56" y="353.1" textLength="22.14" lengthAdjust="spacingAndGlyphs">120</text>
<text x="410.56" y="367.7" textLength="22.14" lengthAdjust="spacingAndGlyphs">100</text>
<text x="417.94" y="382.3" textLength="14.76" lengthAdjust="spacingAndGlyphs">80</text>
<text x="417.94" y="396.9" textLength="14.76" lengthAdjust="spacingAndGlyphs">60</text>
<text x="417.94" y="411.5" textLength="14.76" lengthAdjust="spacingAndGlyphs">40</text>
</g>
<text x="440.28" y="308.8" font-family="'Liberation Sans', sans-serif" font-size="10.5" fill="#000" textLength="151.89" lengthAdjust="spacingAndGlyphs">Прогнозы для выборки #11</text>
</g>
<g>
<path d="M647.4 324.1V418.4M679.0 324.1V418.4M710.4 324.1V418.4M742.0 324.1V418.4M773.4 324.1V418.4M644.5 335.0H788.0M644.5 353.4H788.0M644.5 371.6H788.0M644.5 389.8H788.0M644.5 408.2H788.0" stroke="#000" stroke-opacity="0.1" stroke-width="0.55" fill="none"/>
<path d="M644.45 324.00V418.95M643.95 418.45H788.50M647.4 418.4V413.3M679.0 418.4V413.3M710.4 418.4V413.3M742.0 418.4V413.3M773.4 418.4V413.3M644.5 335.0H649.6M644.5 353.4H649.6M644.5 371.6H649.6M644.5 389.8H649.6M644.5 408.2H649.6" stroke="#000" stroke-width="1" fill="none"/>
<g clip-path="url(#c12)" fill="none" stroke-width="2.05" stroke-linejoin="round" stroke-linecap="square">
<polyline stroke="#c371d2" points="648.5,338.5 649.3,326.5 650.0,333.0 650.7,335.0 651.7,332.0 653.0,332.5 654.4,333.0 655.6,332.0 656.9,332.0 658.4,333.0 659.9,334.0 661.4,334.5 662.6,335.0 663.4,343.0 664.2,342.0 664.9,335.0 665.8,332.0 667.1,333.0 668.3,331.0 669.3,333.5 670.5,330.5 671.8,333.0 673.3,330.5 674.5,333.0 675.8,332.0 676.4,338.5 677.2,332.5 678.2,332.0 679.0,340.0 680.0,344.0 681.0,337.0 682.0,336.0 683.0,349.0 684.0,358.0 685.0,365.0 686.0,376.0 687.1,370.0 688.1,376.0 689.3,369.0 690.1,368.0 691.1,377.0 692.3,371.0 693.3,378.0 694.6,371.5 695.6,376.0 696.9,371.0 698.0,370.5 699.2,371.5 700.5,372.0 701.5,377.5 702.8,371.5 704.0,368.0 705.2,377.0 706.5,372.0 707.8,377.5 708.9,371.5 710.1,377.0 711.4,371.0 712.7,377.0 713.9,371.0 715.1,377.0 716.4,371.0 717.7,377.0 718.9,371.5 720.0,377.0 721.3,377.5 722.6,371.5 723.6,377.0 723.8,374.6 725.1,377.2 726.4,374.6 727.7,377.2 729.0,374.6 730.3,377.2 731.6,373.8 732.9,376.4 734.0,378.1 735.1,371.1 736.0,368.5 737.0,372.0 738.1,371.1 739.2,375.5 740.5,373.8 741.6,376.4 742.5,371.1 743.6,372.9 744.6,377.7 745.9,378.6 747.0,387.8 748.1,379.0 749.4,378.6 750.5,393.4 751.4,383.4 752.3,370.7 753.3,372.0 754.3,376.4 755.5,377.2 756.6,386.9 757.6,393.0 758.5,386.9 759.5,379.0 760.4,378.1 761.5,383.4 762.7,391.2 763.5,395.6 764.4,390.4 765.4,392.1 766.5,390.4 767.6,391.2 768.5,398.2 769.8,401.8 771.1,398.2 772.2,401.8 773.1,379.9 774.1,393.9 775.1,403.5 776.3,401.8 777.1,400.0 778.0,389.5 778.9,376.4 779.7,375.1 780.6,386.9 781.5,402.6 782.6,403.5 783.5,403.5 783.9,407.0"/>
<polyline stroke="#00aaae" points="648.5,340.0 650.0,343.0 651.5,343.5 653.0,346.5 654.4,344.5 655.9,344.5 657.4,343.5 658.6,343.0 659.9,344.5 661.4,346.5 662.6,351.5 663.9,354.5 665.4,355.5 666.5,350.0 667.5,346.0 668.8,347.5 670.1,345.5 671.3,346.0 672.8,345.0 674.3,346.0 675.8,345.5 677.1,347.5 678.2,346.5 679.2,356.0 680.0,357.0 681.2,353.0 682.2,344.0 683.4,346.5 684.7,347.0 686.0,350.0 687.4,356.5 688.7,349.0 690.1,350.0 691.3,351.5 692.6,357.0 693.9,365.0 695.3,371.5 696.6,368.0 698.1,370.5 699.3,362.0 700.6,355.5 701.8,358.5 703.0,360.0 704.5,359.0 705.5,365.0 706.8,373.0 708.0,375.5 709.5,374.0 710.8,365.0 712.0,362.5 713.2,363.0 714.4,358.0 715.7,354.5 716.9,356.0 718.1,359.5 719.4,365.0 720.7,374.0 721.9,363.5 722.9,361.5 723.7,361.0 724.1,362.5 725.0,370.0 726.0,373.5 727.3,368.0 728.6,364.5 729.6,367.0 730.8,359.0 732.0,364.0 733.3,372.0 734.6,385.0 736.0,382.5 737.3,378.1 738.6,381.6 739.9,385.1 741.6,390.4 742.9,388.6 744.0,383.8 745.1,390.4 746.2,395.2 747.5,393.0 748.6,393.4 749.7,397.4 750.9,395.6 752.1,401.8 753.2,409.2 754.2,403.5 755.5,407.0 756.7,400.9 757.7,408.8 758.6,398.2 759.6,396.9 761.0,399.1 762.0,399.6 763.1,396.5 763.9,403.5 764.8,398.2 765.9,400.0 767.1,399.6 768.1,405.2 769.0,410.5 770.0,403.5 771.1,402.6 772.3,408.8 773.5,409.6 774.6,412.7 775.5,415.3 776.6,410.5 777.7,408.8 778.7,403.5 779.6,397.4 780.4,395.6 781.3,403.5 782.4,406.1 783.3,412.2 783.9,416.6"/>
<polyline stroke="#3ea44e" points="648.5,335.0 767.6,335.0 783.9,354.4"/>
</g>
<g font-family="'Liberation Sans', sans-serif" font-size="12.7" fill="#000">
<text x="643.71" y="435.7" textLength="7.38" lengthAdjust="spacingAndGlyphs">0</text>
<text x="671.62" y="435.7" textLength="14.76" lengthAdjust="spacingAndGlyphs">50</text>
<text x="699.33" y="435.7" textLength="22.14" lengthAdjust="spacingAndGlyphs">100</text>
<text x="730.93" y="435.7" textLength="22.14" lengthAdjust="spacingAndGlyphs">150</text>
<text x="762.33" y="435.7" textLength="22.14" lengthAdjust="spacingAndGlyphs">200</text>
<text x="610.56" y="339.5" textLength="22.14" lengthAdjust="spacingAndGlyphs">150</text>
<text x="610.56" y="357.9" textLength="22.14" lengthAdjust="spacingAndGlyphs">125</text>
<text x="610.56" y="376.1" textLength="22.14" lengthAdjust="spacingAndGlyphs">100</text>
<text x="617.94" y="394.3" textLength="14.76" lengthAdjust="spacingAndGlyphs">75</text>
<text x="617.94" y="412.7" textLength="14.76" lengthAdjust="spacingAndGlyphs">50</text>
</g>
<text x="640.28" y="308.8" font-family="'Liberation Sans', sans-serif" font-size="10.5" fill="#000" textLength="151.89" lengthAdjust="spacingAndGlyphs">Прогнозы для выборки #12</text>
</g>
<g>
<path d="M47.4 474.1V568.5M82.4 474.1V568.5M117.4 474.1V568.5M152.4 474.1V568.5M187.4 474.1V568.5M44.5 489.6H188.0M44.5 506.6H188.0M44.5 523.6H188.0M44.5 540.4H188.0M44.5 557.4H188.0" stroke="#000" stroke-opacity="0.1" stroke-width="0.55" fill="none"/>
<path d="M44.45 474.00V568.95M43.95 568.45H188.50M47.4 568.5V563.4M82.4 568.5V563.4M117.4 568.5V563.4M152.4 568.5V563.4M187.4 568.5V563.4M44.5 489.6H49.6M44.5 506.6H49.6M44.5 523.6H49.6M44.5 540.4H49.6M44.5 557.4H49.6" stroke="#000" stroke-width="1" fill="none"/>
<g clip-path="url(#c13)" fill="none" stroke-width="2.05" stroke-linejoin="round" stroke-linecap="square">
<polyline stroke="#c371d2" points="48.5,495.2 49.2,476.5 50.4,488.5 51.9,493.8 53.4,488.5 54.9,490.0 56.0,499.0 57.4,488.5 59.7,488.2 61.9,494.5 63.8,489.2 65.6,493.0 67.9,488.5 70.1,490.8 72.3,488.2 74.6,488.8 76.8,494.5 78.7,488.8 80.5,495.2 82.3,489.2 84.3,488.2 86.2,493.8 88.0,488.8 90.2,491.5 92.5,488.5 94.2,494.5 96.6,502.8 98.4,490.0 100.2,496.0 102.1,489.2 104.1,496.8 104.9,500.0 106.1,506.5 107.4,502.0 108.8,500.0 110.3,502.0 111.6,510.0 112.6,521.0 113.6,510.5 114.6,520.0 115.6,527.0 116.8,524.0 118.0,531.0 119.3,523.0 120.6,529.0 121.8,523.0 123.0,530.0 123.9,538.5 124.9,530.0 126.2,522.5 127.5,530.0 128.7,523.5 129.9,524.0 131.2,529.0 132.5,530.0 133.7,535.0 134.7,540.5 135.9,533.0 137.2,527.0 138.5,530.0 139.6,534.5 140.8,530.0 142.1,533.0 143.4,537.5 144.6,529.0 145.8,533.0 147.1,538.0 148.1,541.0 149.4,536.0 150.6,531.0 151.8,540.0 153.1,551.0 154.3,538.0 155.5,526.0 156.7,538.0 158.0,541.0 159.3,550.0 160.5,542.0 161.7,532.0 163.0,549.0 164.3,538.0 165.5,529.0 166.7,540.0 168.0,546.0 169.4,556.0 170.6,548.0 171.9,544.0 173.2,550.0 173.9,536.0 175.2,544.0 176.4,550.0 177.9,554.0 179.4,549.0 181.4,546.0 182.9,564.0 183.9,565.5"/>
<polyline stroke="#00aaae" points="48.5,507.2 49.5,496.8 51.0,494.5 52.5,492.2 54.0,496.8 55.5,514.0 57.0,508.0 58.5,503.5 60.4,509.5 62.4,507.2 64.1,520.0 65.9,535.8 67.4,517.0 69.4,515.5 70.9,523.0 72.3,529.8 73.8,523.8 76.1,533.5 77.6,538.8 79.3,541.8 80.8,532.8 82.8,533.5 84.7,531.2 86.8,531.2 88.3,536.5 90.2,544.8 92.8,550.0 94.7,544.0 96.9,541.0 98.4,539.5 99.9,544.0 101.4,541.0 102.7,543.0 103.9,546.5 105.4,539.0 106.7,545.0 108.1,543.0 109.3,545.5 110.6,543.0 112.0,539.0 113.3,538.0 114.6,540.0 115.8,537.5 116.8,544.0 117.8,552.0 119.3,548.0 120.8,546.5 122.0,544.0 123.0,543.0 124.2,551.0 125.5,533.0 126.5,535.0 127.7,542.0 128.9,544.0 130.2,544.0 131.7,546.0 133.2,555.0 134.5,545.0 135.9,543.0 137.2,542.0 138.5,536.0 139.4,540.0 140.4,550.0 141.6,532.0 142.8,510.0 143.6,524.0 144.6,518.0 145.8,519.0 146.8,521.0 147.8,539.0 148.8,526.0 149.8,535.0 151.1,533.5 152.6,533.0 154.0,529.0 155.0,510.0 156.0,508.5 157.0,516.0 158.3,529.0 159.5,534.0 161.0,537.0 162.3,540.0 163.7,538.5 165.0,536.0 166.3,539.0 167.5,538.0 168.9,541.0 170.2,544.0 171.4,542.0 172.9,546.0 174.4,547.0 175.9,548.0 177.4,546.5 178.9,547.0 180.2,549.0 182.1,549.8 183.9,558.0"/>
<polyline stroke="#3ea44e" points="48.5,489.6 145.4,489.6 183.9,527.6"/>
</g>
<g font-family="'Liberation Sans', sans-serif" font-size="12.7" fill="#000">
<text x="43.71" y="585.7" textLength="7.38" lengthAdjust="spacingAndGlyphs">0</text>
<text x="75.02" y="585.7" textLength="14.76" lengthAdjust="spacingAndGlyphs">50</text>
<text x="106.33" y="585.7" textLength="22.14" lengthAdjust="spacingAndGlyphs">100</text>
<text x="141.33" y="585.7" textLength="22.14" lengthAdjust="spacingAndGlyphs">150</text>
<text x="176.33" y="585.7" textLength="22.14" lengthAdjust="spacingAndGlyphs">200</text>
<text x="10.56" y="494.1" textLength="22.14" lengthAdjust="spacingAndGlyphs">150</text>
<text x="10.56" y="511.1" textLength="22.14" lengthAdjust="spacingAndGlyphs">125</text>
<text x="10.56" y="528.1" textLength="22.14" lengthAdjust="spacingAndGlyphs">100</text>
<text x="17.94" y="544.9" textLength="14.76" lengthAdjust="spacingAndGlyphs">75</text>
<text x="17.94" y="561.9" textLength="14.76" lengthAdjust="spacingAndGlyphs">50</text>
</g>
<text x="40.28" y="458.8" font-family="'Liberation Sans', sans-serif" font-size="10.5" fill="#000" textLength="151.89" lengthAdjust="spacingAndGlyphs">Прогнозы для выборки #13</text>
</g>
<g>
<path d="M245.4 474.1V568.5M275.6 474.1V568.5M305.6 474.1V568.5M335.8 474.1V568.5M365.8 474.1V568.5M244.4 486.8H388.0M244.4 506.4H388.0M244.4 526.0H388.0M244.4 545.6H388.0M244.4 565.2H388.0" stroke="#000" stroke-opacity="0.1" stroke-width="0.55" fill="none"/>
<path d="M244.45 474.00V568.95M243.95 568.45H388.50M245.4 568.5V563.4M275.6 568.5V563.4M305.6 568.5V563.4M335.8 568.5V563.4M365.8 568.5V563.4M244.4 486.8H249.5M244.4 506.4H249.5M244.4 526.0H249.5M244.4 545.6H249.5M244.4 565.2H249.5" stroke="#000" stroke-width="1" fill="none"/>
<g clip-path="url(#c14)" fill="none" stroke-width="2.05" stroke-linejoin="round" stroke-linecap="square">
<polyline stroke="#c371d2" points="248.5,518.6 251.5,540.0 254.5,543.0 257.5,548.0 260.5,543.6 263.5,539.0 266.6,544.0 269.6,536.6 272.6,544.0 275.6,536.0 278.6,540.0 281.6,545.6 284.6,564.0 287.6,542.0 290.6,551.6 293.6,540.4 296.6,551.0 299.7,554.0 302.7,554.0 305.7,545.6 308.7,552.0 311.7,552.4 314.7,554.0 317.7,543.6 320.7,535.6 323.7,556.4 326.7,554.0 329.7,543.0 332.7,536.4 335.8,548.0 338.8,555.0 341.8,552.0 344.8,544.4 347.8,552.4 350.8,545.6 353.8,543.6 356.8,543.6 359.8,545.0 362.8,551.0 365.8,542.0 368.9,551.0 371.9,553.6 374.9,545.0 377.9,558.0 380.9,546.4 383.9,554.0"/>
<polyline stroke="#00aaae" points="248.5,554.0 251.5,544.0 254.5,542.4 257.5,538.0 260.5,521.6 263.5,524.0 266.6,534.4 269.6,508.0 272.6,522.4 275.6,516.0 278.6,517.0 281.6,522.0 284.6,529.6 287.6,517.0 290.6,524.0 293.6,518.0 296.6,519.6 299.7,533.0 302.7,535.4 305.7,535.6 308.7,536.4 311.7,524.4 314.7,540.0 317.7,541.6 320.7,530.6 323.7,540.0 326.7,547.0 329.7,545.0 332.7,552.0 335.8,540.4 338.8,550.4 341.8,544.0 344.8,541.0 347.8,541.6 350.8,540.0 353.8,542.0 356.8,539.0 359.8,547.6 362.8,541.0 365.8,542.6 368.9,544.0 371.9,553.0 374.9,549.0 377.9,558.0 380.9,565.6 383.9,563.0"/>
<polyline stroke="#3ea44e" points="248.5,477.0 254.5,477.0 383.9,519.0"/>
</g>
<g font-family="'Liberation Sans', sans-serif" font-size="12.7" fill="#000">
<text x="241.71" y="585.7" textLength="7.38" lengthAdjust="spacingAndGlyphs">0</text>
<text x="268.22" y="585.7" textLength="14.76" lengthAdjust="spacingAndGlyphs">10</text>
<text x="298.22" y="585.7" textLength="14.76" lengthAdjust="spacingAndGlyphs">20</text>
<text x="328.42" y="585.7" textLength="14.76" lengthAdjust="spacingAndGlyphs">30</text>
<text x="358.42" y="585.7" textLength="14.76" lengthAdjust="spacingAndGlyphs">40</text>
<text x="210.56" y="491.3" textLength="22.14" lengthAdjust="spacingAndGlyphs">140</text>
<text x="210.56" y="510.9" textLength="22.14" lengthAdjust="spacingAndGlyphs">120</text>
<text x="210.56" y="530.5" textLength="22.14" lengthAdjust="spacingAndGlyphs">100</text>
<text x="217.94" y="550.1" textLength="14.76" lengthAdjust="spacingAndGlyphs">80</text>
<text x="217.94" y="569.7" textLength="14.76" lengthAdjust="spacingAndGlyphs">60</text>
</g>
<text x="240.28" y="458.8" font-family="'Liberation Sans', sans-serif" font-size="10.5" fill="#000" textLength="151.89" lengthAdjust="spacingAndGlyphs">Прогнозы для выборки #14</text>
</g>
<g>
<path d="M446.4 474.1V568.5M482.6 474.1V568.5M519.0 474.1V568.5M555.2 474.1V568.5M444.4 485.2H588.0M444.4 503.4H588.0M444.4 521.6H588.0M444.4 539.8H588.0M444.4 558.0H588.0" stroke="#000" stroke-opacity="0.1" stroke-width="0.55" fill="none"/>
<path d="M444.45 474.00V568.95M443.95 568.45H588.50M446.4 568.5V563.4M482.6 568.5V563.4M519.0 568.5V563.4M555.2 568.5V563.4M444.4 485.2H449.6M444.4 503.4H449.6M444.4 521.6H449.6M444.4 539.8H449.6M444.4 558.0H449.6" stroke="#000" stroke-width="1" fill="none"/>
<g clip-path="url(#c15)" fill="none" stroke-width="2.05" stroke-linejoin="round" stroke-linecap="square">
<polyline stroke="#c371d2" points="448.5,499.5 450.3,483.2 452.1,476.8 453.9,479.5 455.7,513.9 457.5,507.0 459.3,511.4 461.1,515.1 462.9,518.2 464.8,528.2 466.6,545.1 468.4,540.1 470.2,540.1 472.0,538.2 473.8,535.1 475.6,535.1 477.4,538.2 479.2,540.1 481.0,543.9 482.8,535.8 484.6,544.5 486.4,540.1 488.2,539.5 490.0,538.2 491.8,536.4 493.7,538.2 495.5,542.0 497.3,545.8 499.1,539.5 500.9,543.2 502.7,535.1 504.5,547.0 506.3,537.0 508.1,539.5 509.9,537.6 511.7,535.8 513.5,537.0 515.3,543.2 517.1,543.9 518.9,543.8 520.7,535.6 522.5,538.1 524.3,545.6 526.1,538.8 527.9,543.8 529.7,536.9 531.5,540.0 533.3,537.5 535.1,543.1 536.9,535.6 538.7,540.6 540.6,546.9 542.4,537.5 544.2,536.2 546.0,539.4 547.8,545.0 549.6,546.2 551.4,544.4 553.2,535.6 555.0,542.5 556.8,536.2 558.6,542.5 560.4,538.1 562.2,541.2 564.0,535.0 565.8,548.1 567.6,540.0 569.5,546.2 571.3,536.2 573.1,543.8 574.9,540.0 576.7,536.2 578.5,541.9 580.3,535.6 582.1,536.9 583.9,534.4"/>
<polyline stroke="#00aaae" points="448.5,487.6 450.3,497.6 452.1,498.9 453.9,500.1 455.7,502.0 457.5,500.8 459.3,503.2 461.1,500.8 462.9,500.8 464.8,501.4 466.6,502.6 468.4,502.0 470.2,505.1 472.0,503.2 473.8,503.9 475.6,502.6 477.4,506.4 479.2,508.2 481.0,510.1 482.8,508.9 484.6,511.4 486.4,508.9 488.2,505.1 490.0,504.5 491.8,503.9 493.7,507.6 495.5,510.8 497.3,512.6 499.1,512.6 500.9,515.1 502.7,520.8 504.5,525.1 506.3,528.9 508.1,529.5 509.9,518.9 511.7,512.6 513.5,516.4 515.3,522.6 517.1,535.8 518.9,544.4 520.7,529.4 522.5,537.5 524.3,543.8 526.1,542.5 527.9,548.1 529.7,549.4 531.5,542.5 533.3,540.6 535.1,545.6 536.9,546.2 538.7,546.9 540.6,543.1 542.4,535.0 544.2,538.1 546.0,536.2 547.8,530.0 549.6,532.5 551.4,537.5 553.2,541.2 555.0,551.9 556.8,553.8 558.6,565.0 560.4,558.1 562.2,555.0 564.0,550.0 565.8,555.0 567.6,558.1 569.5,554.4 571.3,553.1 573.1,556.2 574.9,558.8 576.7,565.6 578.5,561.2 580.3,561.9 582.1,560.6 583.9,559.8"/>
<polyline stroke="#3ea44e" points="448.5,494.4 462.8,494.4 583.9,555.6"/>
</g>
<g font-family="'Liberation Sans', sans-serif" font-size="12.7" fill="#000">
<text x="442.71" y="585.7" textLength="7.38" lengthAdjust="spacingAndGlyphs">0</text>
<text x="475.22" y="585.7" textLength="14.76" lengthAdjust="spacingAndGlyphs">20</text>
<text x="511.62" y="585.7" textLength="14.76" lengthAdjust="spacingAndGlyphs">40</text>
<text x="547.82" y="585.7" textLength="14.76" lengthAdjust="spacingAndGlyphs">60</text>
<text x="410.56" y="489.7" textLength="22.14" lengthAdjust="spacingAndGlyphs">160</text>
<text x="410.56" y="507.9" textLength="22.14" lengthAdjust="spacingAndGlyphs">140</text>
<text x="410.56" y="526.1" textLength="22.14" lengthAdjust="spacingAndGlyphs">120</text>
<text x="410.56" y="544.3" textLength="22.14" lengthAdjust="spacingAndGlyphs">100</text>
<text x="417.94" y="562.5" textLength="14.76" lengthAdjust="spacingAndGlyphs">80</text>
</g>
<text x="440.28" y="458.8" font-family="'Liberation Sans', sans-serif" font-size="10.5" fill="#000" textLength="151.89" lengthAdjust="spacingAndGlyphs">Прогнозы для выборки #15</text>
</g>
<g>
<path d="M647.0 474.1V568.5M677.4 474.1V568.5M707.6 474.1V568.5M738.0 474.1V568.5M768.4 474.1V568.5M644.5 490.6H788.0M644.5 509.2H788.0M644.5 527.8H788.0M644.5 546.4H788.0M644.5 565.0H788.0" stroke="#000" stroke-opacity="0.1" stroke-width="0.55" fill="none"/>
<path d="M644.45 474.00V568.95M643.95 568.45H788.50M647.0 568.5V563.4M677.4 568.5V563.4M707.6 568.5V563.4M738.0 568.5V563.4M768.4 568.5V563.4M644.5 490.6H649.6M644.5 509.2H649.6M644.5 527.8H649.6M644.5 546.4H649.6M644.5 565.0H649.6" stroke="#000" stroke-width="1" fill="none"/>
<g clip-path="url(#c16)" fill="none" stroke-width="2.05" stroke-linejoin="round" stroke-linecap="square">
<polyline stroke="#c371d2" points="648.5,496.0 649.7,487.0 651.0,477.4 652.2,487.0 653.4,505.0 654.9,499.8 656.4,509.5 658.2,510.2 659.7,518.5 660.9,524.5 662.4,520.8 664.1,523.8 666.4,523.8 668.6,526.8 670.4,520.8 672.3,532.8 673.8,526.8 675.3,531.2 677.3,523.0 678.7,529.8 680.5,522.2 682.3,513.2 683.8,521.5 685.0,529.0 686.8,523.8 688.7,524.5 690.2,530.5 692.2,523.0 693.9,514.8 695.4,518.5 697.2,521.5 699.2,527.5 700.7,533.5 702.6,523.8 704.4,529.8 706.6,525.2 708.8,523.8 711.1,528.2 713.0,523.8 714.5,526.0 716.3,520.0 718.1,524.5 720.0,526.8 721.5,524.5 723.0,532.0 724.9,525.2 726.7,528.2 728.5,524.5 730.5,524.5 732.7,523.8 734.9,526.8 737.2,529.8 738.9,533.5 740.9,527.5 742.8,532.0 744.6,527.5 746.4,533.5 748.3,526.8 750.3,528.2 752.1,533.5 753.8,529.0 755.8,526.8 757.7,531.2 759.5,527.5 760.5,541.5 762.0,533.2 763.8,529.5 765.7,534.0 767.7,537.0 769.4,528.0 771.2,531.8 773.2,528.8 775.4,533.2 777.6,525.0 779.1,540.0 780.6,544.5 782.1,544.5 783.9,552.0"/>
<polyline stroke="#00aaae" points="648.5,496.8 650.4,496.0 651.9,495.2 653.7,499.0 655.5,496.0 657.9,496.8 660.0,498.2 661.9,499.0 663.8,499.8 665.9,498.2 667.9,497.8 669.8,499.0 671.6,501.2 673.1,503.5 674.9,499.8 676.8,503.5 678.7,507.2 680.2,508.8 682.3,499.8 684.3,502.0 686.2,500.5 688.0,501.2 689.8,508.0 691.7,516.2 693.6,511.8 695.4,509.5 697.2,514.8 699.2,523.0 700.7,519.2 702.6,526.8 704.4,529.8 706.3,533.5 708.1,529.0 710.0,525.2 711.8,520.8 713.6,520.0 715.1,511.8 716.3,504.2 717.8,505.0 719.3,511.0 720.8,511.8 722.3,517.8 724.0,524.5 726.0,527.5 727.9,526.8 729.7,532.0 731.5,535.8 733.0,542.5 734.9,542.5 736.4,539.5 737.9,544.0 740.1,541.0 742.4,542.5 744.6,541.8 746.8,542.5 748.3,544.8 750.3,536.5 751.8,533.5 753.3,542.5 755.0,550.0 756.8,554.5 758.3,550.0 759.5,550.8 760.8,556.5 762.7,552.8 765.0,551.2 766.5,558.0 768.0,566.2 769.4,558.0 771.2,554.2 772.7,559.5 774.7,561.0 776.6,559.5 778.4,561.8 779.9,556.5 781.4,553.5 782.6,550.5 783.9,558.0"/>
<polyline stroke="#3ea44e" points="648.5,490.8 704.0,490.8 783.9,540.0"/>
</g>
<g font-family="'Liberation Sans', sans-serif" font-size="12.7" fill="#000">
<text x="643.31" y="585.7" textLength="7.38" lengthAdjust="spacingAndGlyphs">0</text>
<text x="670.02" y="585.7" textLength="14.76" lengthAdjust="spacingAndGlyphs">25</text>
<text x="700.22" y="585.7" textLength="14.76" lengthAdjust="spacingAndGlyphs">50</text>
<text x="730.62" y="585.7" textLength="14.76" lengthAdjust="spacingAndGlyphs">75</text>
<text x="757.33" y="585.7" textLength="22.14" lengthAdjust="spacingAndGlyphs">100</text>
<text x="610.56" y="495.1" textLength="22.14" lengthAdjust="spacingAndGlyphs">150</text>
<text x="610.56" y="513.7" textLength="22.14" lengthAdjust="spacingAndGlyphs">125</text>
<text x="610.56" y="532.3" textLength="22.14" lengthAdjust="spacingAndGlyphs">100</text>
<text x="617.94" y="550.9" textLength="14.76" lengthAdjust="spacingAndGlyphs">75</text>
<text x="617.94" y="569.5" textLength="14.76" lengthAdjust="spacingAndGlyphs">50</text>
</g>
<text x="640.28" y="458.8" font-family="'Liberation Sans', sans-serif" font-size="10.5" fill="#000" textLength="151.89" lengthAdjust="spacingAndGlyphs">Прогнозы для выборки #16</text>
</g>
</svg>
</body>
</html>
